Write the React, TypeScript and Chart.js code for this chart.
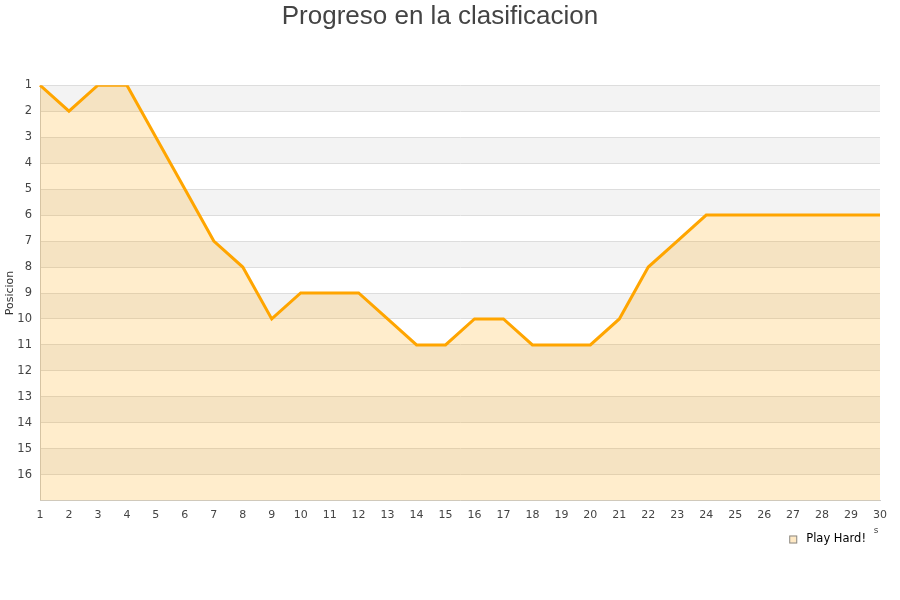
import React, { useEffect, useRef } from "react";
import { Chart, registerables } from "chart.js";

Chart.register(...registerables);

const jornadas: string[] = Array.from({ length: 30 }, (_, i) => String(i + 1));
const posiciones: number[] = [1, 2, 1, 1, 3, 5, 7, 8, 10, 9, 9, 9, 10, 11, 11, 10, 10, 11, 11, 11, 10, 8, 7, 6, 6, 6, 6, 6, 6, 6];
const teamName = "Play Hard!";
const chartTitle = "Progreso en la clasificacion";
const yTitle = "Posicion";
const xTitleFragment = "s";

const bandsPlugin = {
  id: "bands",
  beforeDraw(chart: any) {
    const { ctx, chartArea, scales } = chart;
    const y = scales.y;
    ctx.save();
    for (let v = 1; v < 17; v += 2) {
      const top = y.getPixelForValue(v);
      const bot = y.getPixelForValue(v + 1);
      ctx.fillStyle = "#f3f3f3";
      ctx.fillRect(chartArea.left, top, chartArea.right - chartArea.left, bot - top);
    }
    ctx.restore();
  },
};

const legendPlugin = {
  id: "customLegend",
  afterDraw(chart: any) {
    const { ctx } = chart;
    const label = chart.data.datasets[0].label as string;
    ctx.save();
    ctx.font = "11.5px 'DejaVu Sans'";
    ctx.textBaseline = "middle";
    ctx.textAlign = "right";
    const right = 866;
    const cy = 539.5;
    const w = ctx.measureText(label).width;
    ctx.fillStyle = "#000";
    ctx.fillText(label, right, cy);
    const bx = right - w - 17;
    ctx.fillStyle = "#ffe9c4";
    ctx.fillRect(bx, cy - 4, 8, 8);
    ctx.strokeStyle = "#8a8a8a";
    ctx.lineWidth = 1;
    ctx.strokeRect(bx + 0.5, cy - 3.5, 7, 7);
    ctx.font = "9px 'DejaVu Sans'";
    ctx.textAlign = "center";
    ctx.fillStyle = "#444";
    ctx.fillText(xTitleFragment, 876, 531);
    ctx.restore();
  },
};

export default function App() {
  const ref = useRef<HTMLCanvasElement | null>(null);
  useEffect(() => {
    document.body.style.margin = "0";
    const chart = new Chart(ref.current as HTMLCanvasElement, {
      type: "line",
      data: {
        labels: jornadas,
        datasets: [
          {
            label: teamName,
            data: posiciones,
            borderColor: "#ffa500",
            backgroundColor: "rgba(255,165,0,0.2)",
            borderWidth: 3,
            pointRadius: 0,
            tension: 0,
            fill: { value: 17 },
          },
        ],
      },
      options: {
        animation: false,
        responsive: false,
        layout: { padding: { left: 0, right: 20, top: 0, bottom: 70 } },
        plugins: {
          title: {
            display: true,
            text: chartTitle,
            color: "#444",
            font: { family: "Liberation Sans, Arial, sans-serif", size: 26, weight: "normal" },
            padding: { top: 1, bottom: 53 },
          },
          legend: { display: false },
          tooltip: { enabled: false },
        },
        scales: {
          x: {
            type: "category",
            offset: false,
            grid: { display: false, drawTicks: false },
            border: { display: true, color: "#ccc" },
            ticks: {
              color: "#444",
              font: { family: "DejaVu Sans", size: 11 },
              padding: 8,
              maxRotation: 0,
              autoSkip: false,
            },
          },
          y: {
            type: "linear",
            reverse: true,
            min: 1,
            max: 17,
            afterFit: (axis: any) => {
              axis.width = 40;
            },
            grid: { color: "#ddd", drawTicks: false },
            border: { display: true, color: "#ccc" },
            title: {
              display: true,
              text: yTitle,
              color: "#333",
              font: { family: "DejaVu Sans", size: 11 },
              padding: { top: 4, bottom: 0 },
            },
            ticks: {
              stepSize: 1,
              color: "#444",
              font: { family: "DejaVu Sans", size: 11.5 },
              padding: 8,
              callback: (v: any) => (v >= 17 ? "" : String(v)),
            },
          },
        },
      },
      plugins: [bandsPlugin, legendPlugin],
    });
    return () => chart.destroy();
  }, []);
  return (
    <div style={{ width: 900, height: 600 }}>
      <canvas ref={ref} width={900} height={600} style={{ display: "block" }} />
    </div>
  );
}
